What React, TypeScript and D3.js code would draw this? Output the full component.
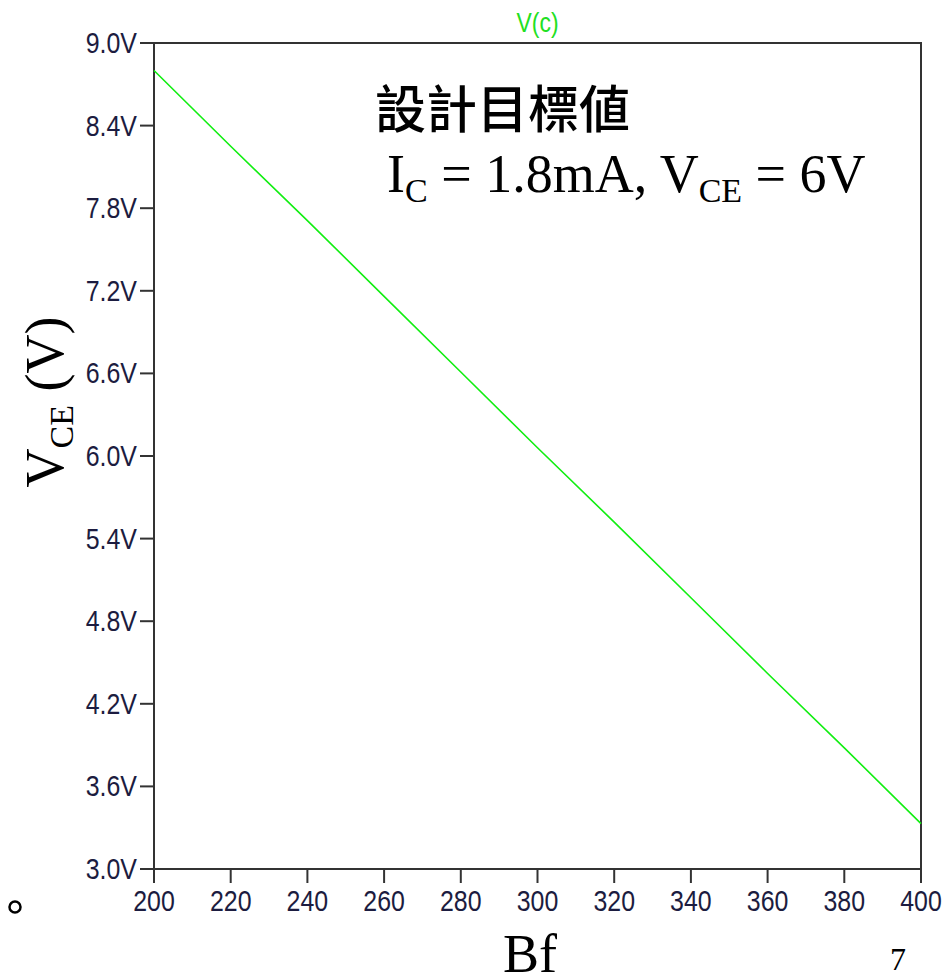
import React, { useEffect, useRef } from "react";
import * as d3 from "d3";

// Bf sweep (x) and V(c) (y)
const bfValues = [200, 220, 240, 260, 280, 300, 320, 340, 360, 380, 400];
const vceValues = [8.8, 8.25, 7.71, 7.16, 6.61, 6.06, 5.52, 4.97, 4.42, 3.88, 3.33];
const yTickValues = [3.0, 3.6, 4.2, 4.8, 5.4, 6.0, 6.6, 7.2, 7.8, 8.4, 9.0];
const xTickValues = [200, 220, 240, 260, 280, 300, 320, 340, 360, 380, 400];

const W = 947;
const H = 976;

export default function App() {
  const ref = useRef<SVGSVGElement>(null);

  useEffect(() => {
    const svg = d3.select(ref.current);
    svg.selectAll("*").remove();

    const left = 154, right = 921, top = 43, bottom = 869;
    const x = d3.scaleLinear().domain([200, 400]).range([left, right]);
    const y = d3.scaleLinear().domain([3, 9]).range([bottom, top]);

    const tickFont = "'Liberation Sans', Arial, sans-serif";
    const labelColor = "#1c1c40";

    // frame
    svg.append("rect")
      .attr("x", left).attr("y", top)
      .attr("width", right - left).attr("height", bottom - top)
      .attr("fill", "none").attr("stroke", "#333").attr("stroke-width", 2);

    // y ticks + labels
    const yt = svg.append("g").selectAll("g")
      .data(yTickValues).enter().append("g");
    yt.append("line")
      .attr("x1", left - 14).attr("x2", left)
      .attr("y1", d => y(d)).attr("y2", d => y(d))
      .attr("stroke", "#333").attr("stroke-width", 2);
    yt.append("text")
      .attr("transform", d => `translate(${left - 17},${y(d) + 10}) scale(0.86,1)`)
      .attr("text-anchor", "end")
      .attr("font-family", tickFont).attr("font-size", 29)
      .attr("fill", labelColor)
      .text(d => d.toFixed(1) + "V");

    // x ticks + labels
    const xt = svg.append("g").selectAll("g")
      .data(xTickValues).enter().append("g");
    xt.append("line")
      .attr("x1", d => x(d)).attr("x2", d => x(d))
      .attr("y1", bottom).attr("y2", bottom + 14)
      .attr("stroke", "#333").attr("stroke-width", 2);
    xt.append("text")
      .attr("transform", d => `translate(${x(d)},${bottom + 42}) scale(0.86,1)`)
      .attr("text-anchor", "middle")
      .attr("font-family", tickFont).attr("font-size", 29)
      .attr("fill", labelColor)
      .text(d => String(d));

    // trace
    const line = d3.line<number>()
      .x((_, i) => x(bfValues[i]))
      .y(d => y(d));
    svg.append("path")
      .datum(vceValues)
      .attr("d", line)
      .attr("fill", "none")
      .attr("stroke", "#11ee11")
      .attr("stroke-width", 1.6);

    // trace name
    svg.append("text")
      .attr("transform", `translate(${(left + right) / 2},${32}) scale(0.85,1)`)
      .attr("text-anchor", "middle")
      .attr("font-family", tickFont).attr("font-size", 27)
      .attr("fill", "#22e022")
      .text("V(c)");

    // annotation
    svg.append("text")
      .attr("x", 375).attr("y", 128)
      .attr("font-family", "'Noto Sans CJK TC', 'Noto Sans CJK JP', sans-serif")
      .attr("font-size", 51)
      .attr("font-weight", 500)
      .attr("fill", "#000")
      .text("設計目標値");

    const serif = "'Liberation Serif', 'Times New Roman', serif";
    const eq = svg.append("text")
      .attr("x", 387).attr("y", 192)
      .attr("font-family", serif).attr("font-size", 54)
      .attr("fill", "#000");
    eq.append("tspan").text("I");
    eq.append("tspan").attr("font-size", 34).attr("dy", 10).text("C");
    eq.append("tspan").attr("dy", -10).text(" = 1.8mA, V");
    eq.append("tspan").attr("font-size", 34).attr("dy", 10).text("CE");
    eq.append("tspan").attr("dy", -10).text(" = 6V");

    // y axis title
    const yl = svg.append("text")
      .attr("transform", `translate(63,${402}) rotate(-90)`)
      .attr("text-anchor", "middle")
      .attr("font-family", serif).attr("font-size", 54)
      .attr("fill", "#000");
    yl.append("tspan").text("V");
    yl.append("tspan").attr("font-size", 34).attr("dy", 10).text("CE");
    yl.append("tspan").attr("dy", -10).text(" (V)");

    // x axis title
    svg.append("text")
      .attr("x", 530).attr("y", 972)
      .attr("text-anchor", "middle")
      .attr("font-family", serif).attr("font-size", 54)
      .attr("fill", "#000")
      .text("Bf");

    // slide number and bullet
    svg.append("text")
      .attr("x", 898).attr("y", 970)
      .attr("text-anchor", "middle")
      .attr("font-family", serif).attr("font-size", 32)
      .attr("fill", "#000")
      .text("7");

    svg.append("circle")
      .attr("cx", 15).attr("cy", 907).attr("r", 5.5)
      .attr("fill", "none").attr("stroke", "#000").attr("stroke-width", 2.5);
  }, []);

  return (
    <svg
      ref={ref}
      width={W}
      height={H}
      style={{ position: "absolute", left: 0, top: 0, background: "#fff" }}
    />
  );
}
